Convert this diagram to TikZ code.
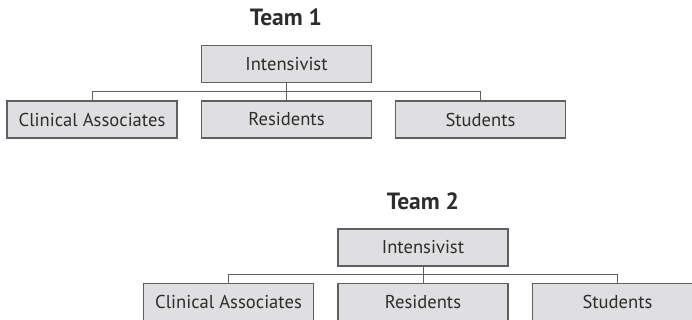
\documentclass[tikz,border=0pt]{standalone}
\usepackage{fontspec}
\setmainfont{PT Sans}
\definecolor{boxfill}{RGB}{223,223,225}
\definecolor{boxdraw}{RGB}{95,95,95}
\definecolor{txt}{RGB}{45,45,45}
\tikzset{
  rolebox/.style={draw=boxdraw, fill=boxfill, line width=1.1pt, minimum width=170pt, minimum height=37pt, inner sep=0pt, text=txt, font=\fontsize{18.6}{22}\selectfont},
  teamtitle/.style={anchor=base, text=txt, font=\bfseries\fontsize{23.5}{28}\selectfont, inner sep=0pt},
  link/.style={draw=boxdraw, line width=1pt}
}
\begin{document}
\begin{tikzpicture}[x=1pt,y=-1pt]
\useasboundingbox (0,0) rectangle (692,320);
\clip (0,0) rectangle (692,320);
% Team 1
\node[teamtitle] (t1) at (286,26) {Team 1};
\node[rolebox] (int1) at (286.5,64) {Intensivist};
\node[rolebox] (ca1) at (92,119.5) {Clinical Associates};
\node[rolebox] (res1) at (286.5,119.5) {Residents};
\node[rolebox] (st1) at (480.5,119.5) {Students};
\draw[link] (int1.south) -- (res1.north);
\draw[link] (ca1.north) -- ++(0,-9) -| (st1.north);
% Team 2
\node[teamtitle] (t2) at (423,209) {Team 2};
\node[rolebox] (int2) at (423,247.5) {Intensivist};
\node[rolebox] (ca2) at (228.5,302) {Clinical Associates};
\node[rolebox] (res2) at (423,302) {Residents};
\node[rolebox] (st2) at (617.5,302) {Students};
\draw[link] (int2.south) -- (res2.north);
\draw[link] (ca2.north) -- ++(0,-8.5) -| (st2.north);
\end{tikzpicture}
\end{document}
